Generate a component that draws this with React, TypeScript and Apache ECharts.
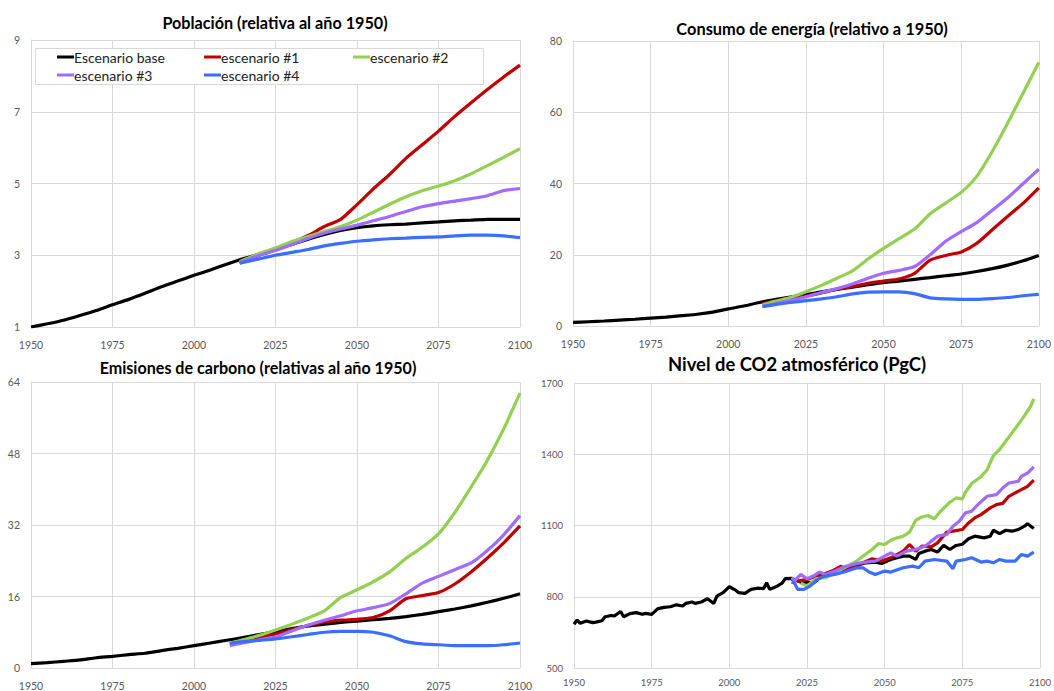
import React, { useEffect, useRef } from "react";
import * as echarts from "echarts";

// ---------- names, colours, titles ----------
const SERIES_NAMES = ["Escenario base", "escenario #1", "escenario #2", "escenario #3", "escenario #4"];
const SERIES_COLORS = ["#000000", "#C00000", "#92D050", "#A06CFF", "#3B6EFF"];
const PANEL_TITLES = [
  "Población (relativa al año 1950)",
  "Consumo de energía (relativo a 1950)",
  "Emisiones de carbono (relativas al año 1950)",
  "Nivel de CO2 atmosférico (PgC)",
];
const X_MIN = 1950;
const X_MAX = 2100;
const X_STEP = 25;
const Y_RANGES = [
  [1, 9, 2],
  [0, 80, 20],
  [0, 64, 16],
  [500, 1700, 300],
];

// ---------- years ----------
const BASE_YEARS = [1950, 1955, 1960, 1965, 1970, 1975, 1980, 1985, 1990, 1995, 2000, 2005, 2010, 2015, 2020, 2025, 2030, 2035, 2040, 2045, 2050, 2055, 2060, 2065, 2070, 2075, 2080, 2085, 2090, 2095, 2100];
const POP_SCEN_YEARS = [2014, 2020, 2025, 2030, 2035, 2040, 2045, 2050, 2055, 2060, 2065, 2070, 2075, 2080, 2085, 2090, 2095, 2100];
const SCEN_YEARS = [2011, 2015, 2020, 2025, 2030, 2035, 2040, 2045, 2050, 2055, 2060, 2065, 2070, 2075, 2080, 2085, 2090, 2095, 2100];

// ---------- panel 1: population ----------
const popBase = [1.0, 1.09, 1.19, 1.32, 1.46, 1.62, 1.77, 1.94, 2.12, 2.28, 2.44, 2.59, 2.75, 2.9, 3.03, 3.16, 3.3, 3.45, 3.58, 3.69, 3.77, 3.82, 3.85, 3.87, 3.9, 3.93, 3.96, 3.98, 4.0, 4.0, 4.0];
const popS1 = [2.78, 3.0, 3.15, 3.35, 3.55, 3.8, 4.0, 4.41, 4.85, 5.25, 5.7, 6.08, 6.46, 6.87, 7.25, 7.62, 7.97, 8.3];
const popS2 = [2.82, 3.05, 3.2, 3.38, 3.52, 3.66, 3.8, 3.98, 4.2, 4.42, 4.63, 4.8, 4.93, 5.08, 5.27, 5.5, 5.73, 5.97];
const popS3 = [2.8, 3.0, 3.13, 3.3, 3.47, 3.62, 3.73, 3.84, 3.96, 4.08, 4.22, 4.35, 4.44, 4.51, 4.58, 4.66, 4.8, 4.86];
const popS4 = [2.78, 2.9, 3.0, 3.08, 3.16, 3.26, 3.33, 3.39, 3.43, 3.46, 3.48, 3.5, 3.51, 3.54, 3.56, 3.56, 3.54, 3.49];

// ---------- panel 2: energy ----------
const enBase = [1.0, 1.2, 1.4, 1.65, 1.9, 2.2, 2.5, 2.9, 3.3, 3.9, 4.8, 5.6, 6.6, 7.4, 8.1, 8.8, 9.6, 10.3, 10.9, 11.6, 12.2, 12.6, 13.1, 13.6, 14.1, 14.6, 15.3, 16.1, 17.1, 18.3, 19.8];
const enS1 = [6.2, 7.0, 7.8, 8.4, 9.3, 10.3, 11.1, 12.0, 12.6, 13.2, 14.8, 18.5, 19.8, 20.8, 23.2, 27.0, 30.8, 34.5, 38.8];
const enS2 = [5.9, 6.9, 8.0, 9.6, 11.4, 13.4, 15.5, 18.8, 21.8, 24.5, 27.2, 31.5, 34.5, 37.5, 42.0, 49.0, 57.0, 65.5, 74.0];
const enS3 = [5.5, 6.2, 7.2, 8.2, 9.4, 10.5, 11.8, 13.4, 14.8, 15.6, 16.7, 20.0, 23.8, 26.5, 29.0, 32.5, 36.0, 40.0, 44.0];
const enS4 = [5.4, 6.0, 6.6, 7.1, 7.6, 8.2, 9.0, 9.5, 9.6, 9.6, 9.1, 7.9, 7.6, 7.5, 7.5, 7.7, 8.0, 8.5, 8.9];

// ---------- panel 3: carbon emissions ----------
const emBase = [1.0, 1.2, 1.5, 1.8, 2.3, 2.6, 3.0, 3.3, 3.9, 4.4, 5.0, 5.6, 6.2, 6.8, 7.5, 8.1, 8.8, 9.4, 9.8, 10.2, 10.5, 10.8, 11.1, 11.5, 12.0, 12.6, 13.2, 13.9, 14.7, 15.6, 16.6];
const emS1 = [5.4, 6.0, 6.8, 7.6, 8.6, 9.5, 10.3, 10.7, 10.9, 11.3, 12.8, 15.5, 16.2, 16.9, 18.8, 21.5, 24.6, 28.0, 31.8];
const emS2 = [5.5, 6.3, 7.3, 8.5, 9.8, 11.2, 12.8, 15.8, 17.5, 19.3, 21.5, 24.5, 27.0, 30.0, 34.8, 40.5, 46.5, 53.5, 61.5];
const emS3 = [5.0, 5.6, 6.3, 7.0, 8.3, 9.6, 10.7, 11.7, 12.8, 13.5, 14.4, 16.6, 19.0, 20.5, 22.0, 23.5, 26.3, 29.8, 34.1];
const emS4 = [5.5, 5.9, 6.2, 6.5, 7.0, 7.5, 8.0, 8.2, 8.2, 8.0, 7.2, 5.9, 5.4, 5.2, 5.0, 5.0, 5.0, 5.2, 5.6];

// ---------- panel 4: atmospheric CO2 ----------
const co2BaseYears = [1950, 1951, 1952, 1954, 1956, 1957, 1959, 1960, 1962, 1963, 1965, 1966, 1968, 1970, 1972, 1973, 1975, 1977, 1979, 1981, 1983, 1985, 1986, 1988, 1989, 1991, 1993, 1995, 1996, 1998, 2000, 2002, 2003, 2005, 2007, 2009, 2011, 2012, 2013, 2015, 2017, 2018, 2020, 2022, 2024, 2025, 2027, 2028, 2030, 2032, 2035, 2039, 2042, 2044, 2047, 2049, 2052, 2054, 2056, 2058, 2060, 2061, 2063, 2065, 2067, 2069, 2071, 2073, 2075, 2077, 2079, 2082, 2084, 2085, 2087, 2089, 2091, 2093, 2095, 2096, 2098];
const co2Base = [684, 702, 688, 698, 691, 693, 699, 716, 721, 719, 738, 716, 729, 733, 726, 730, 726, 750, 755, 758, 766, 761, 772, 778, 772, 778, 792, 772, 803, 817, 842, 828, 817, 814, 831, 836, 834, 859, 831, 842, 857, 876, 877, 867, 857, 862, 857, 867, 894, 901, 912, 918, 936, 943, 946, 940, 957, 964, 971, 971, 957, 982, 992, 999, 988, 1016, 999, 1016, 1021, 1044, 1055, 1048, 1055, 1080, 1066, 1080, 1076, 1083, 1097, 1107, 1087];
const co2S1Years = [2020, 2022, 2025, 2028, 2031, 2033, 2036, 2037, 2041, 2043, 2046, 2049, 2052, 2056, 2058, 2060, 2062, 2065, 2067, 2070, 2072, 2075, 2077, 2079, 2081, 2084, 2086, 2088, 2090, 2092, 2094, 2096, 2098];
const co2S1 = [873, 866, 873, 887, 898, 908, 929, 915, 929, 943, 960, 950, 964, 992, 1020, 992, 1013, 1010, 1027, 1072, 1076, 1083, 1111, 1132, 1146, 1174, 1188, 1193, 1223, 1237, 1251, 1265, 1291];
const co2S2Years = [2023, 2025, 2028, 2031, 2034, 2038, 2041, 2043, 2046, 2048, 2050, 2052, 2054, 2056, 2058, 2060, 2062, 2064, 2066, 2068, 2071, 2073, 2075, 2076, 2078, 2081, 2083, 2085, 2087, 2089, 2091, 2093, 2095, 2097, 2098];
const co2S2 = [857, 845, 876, 880, 901, 929, 950, 971, 999, 1024, 1020, 1038, 1048, 1055, 1072, 1122, 1136, 1142, 1128, 1160, 1198, 1216, 1212, 1240, 1277, 1305, 1335, 1394, 1420, 1455, 1490, 1525, 1563, 1602, 1633];
const co2S3Years = [2020, 2021, 2023, 2025, 2027, 2029, 2031, 2034, 2037, 2041, 2044, 2047, 2050, 2052, 2054, 2057, 2060, 2063, 2065, 2067, 2070, 2072, 2074, 2076, 2078, 2080, 2083, 2086, 2088, 2090, 2093, 2094, 2096, 2098];
const co2S3 = [880, 867, 894, 876, 887, 904, 894, 908, 926, 940, 946, 950, 971, 985, 971, 992, 999, 1013, 1034, 1055, 1062, 1097, 1118, 1153, 1160, 1188, 1223, 1230, 1258, 1279, 1286, 1307, 1321, 1347];
const co2S4Years = [2020, 2021, 2022, 2024, 2026, 2028, 2030, 2032, 2034, 2037, 2041, 2043, 2045, 2047, 2050, 2052, 2056, 2059, 2061, 2063, 2066, 2070, 2072, 2073, 2076, 2078, 2081, 2083, 2085, 2087, 2089, 2092, 2094, 2096, 2098];
const co2S4 = [862, 857, 831, 831, 845, 870, 884, 890, 894, 904, 922, 922, 904, 894, 908, 904, 922, 929, 922, 950, 957, 950, 918, 950, 957, 964, 946, 950, 943, 957, 950, 950, 978, 971, 988];

const PANEL_DATA: [number[], number[]][][] = [
  [[BASE_YEARS, popBase], [POP_SCEN_YEARS, popS1], [POP_SCEN_YEARS, popS2], [POP_SCEN_YEARS, popS3], [POP_SCEN_YEARS, popS4]],
  [[BASE_YEARS, enBase], [SCEN_YEARS, enS1], [SCEN_YEARS, enS2], [SCEN_YEARS, enS3], [SCEN_YEARS, enS4]],
  [[BASE_YEARS, emBase], [SCEN_YEARS, emS1], [SCEN_YEARS, emS2], [SCEN_YEARS, emS3], [SCEN_YEARS, emS4]],
  [[co2BaseYears, co2Base], [co2S1Years, co2S1], [co2S2Years, co2S2], [co2S3Years, co2S3], [co2S4Years, co2S4]],
];

// ---------- layout ----------
const GRIDS = [
  { left: 31, top: 40, width: 489, height: 287 },
  { left: 573, top: 41, width: 468, height: 285 },
  { left: 31, top: 382, width: 489, height: 286 },
  { left: 574, top: 383, width: 467, height: 285 },
];
const TITLE_POS = [
  [275, 22, 16.2],
  [812, 28, 16.4],
  [258, 367, 16.1],
  [797, 364, 18.4],
];
const FONT = "Lato, 'Open Sans', sans-serif";
const GRID_COLOR = "#D9D9D9";
const LABEL_COLOR = "#595959";

export default function App() {
  const ref = useRef<HTMLDivElement>(null);
  useEffect(() => {
    if (!ref.current) return;
    const chart = echarts.init(ref.current, null, { renderer: "svg" });

    const pair = (xs: number[], ys: number[]) => xs.map((x, i) => [x, ys[i]]);

    const series: any[] = [];
    PANEL_DATA.forEach((panel, p) => {
      panel.forEach(([xs, ys], s) => {
        series.push({
          type: "line",
          name: SERIES_NAMES[s],
          xAxisIndex: p,
          yAxisIndex: p,
          data: pair(xs, ys),
          showSymbol: false,
          symbol: "none",
          smooth: p === 3 ? false : 0.2,
          lineStyle: { color: SERIES_COLORS[s], width: 3.2 },
          itemStyle: { color: SERIES_COLORS[s] },
          z: 2 + s,
        });
      });
    });

    const xAxis = GRIDS.map((_, i) => ({
      type: "value",
      gridIndex: i,
      min: X_MIN,
      max: X_MAX,
      interval: X_STEP,
      axisLine: { show: true, lineStyle: { color: GRID_COLOR, width: 1 } },
      axisTick: { show: false },
      splitLine: { show: true, lineStyle: { color: GRID_COLOR, width: 1 } },
      axisLabel: {
        color: LABEL_COLOR,
        fontFamily: FONT,
        fontSize: i === 3 ? 9.5 : 10.5,
        margin: i === 3 ? 9 : 12,
        formatter: (v: number) => String(v),
      },
    }));

    const yAxis = GRIDS.map((_, i) => ({
      type: "value",
      gridIndex: i,
      min: Y_RANGES[i][0],
      max: Y_RANGES[i][1],
      interval: Y_RANGES[i][2],
      axisLine: { show: true, lineStyle: { color: GRID_COLOR, width: 1 } },
      axisTick: { show: false },
      splitLine: { show: true, lineStyle: { color: GRID_COLOR, width: 1 } },
      axisLabel: {
        color: LABEL_COLOR,
        fontFamily: FONT,
        fontSize: i === 3 ? 9.5 : 10.5,
        margin: 11,
        formatter: (v: number) => String(v),
      },
    }));

    const graphics: any[] = PANEL_TITLES.map((t, i) => ({
      type: "text",
      x: TITLE_POS[i][0],
      y: TITLE_POS[i][1],
      z: 10,
      style: {
        text: t,
        fontFamily: FONT,
        fontWeight: "bold",
        fontSize: TITLE_POS[i][2],
        fill: "#000000",
        textAlign: "center",
        textVerticalAlign: "middle",
      },
    }));

    // legend box
    graphics.push({
      type: "rect",
      shape: { x: 35.5, y: 48.5, width: 448, height: 36 },
      style: { fill: "#ffffff", stroke: GRID_COLOR, lineWidth: 1 },
      z: 20,
    });
    const legendPos = [
      [57, 57],
      [204, 57],
      [353, 57],
      [57, 75],
      [204, 75],
    ];
    SERIES_NAMES.forEach((name, i) => {
      const [lx, ly] = legendPos[i];
      graphics.push({
        type: "line",
        shape: { x1: lx, y1: ly, x2: lx + 17, y2: ly },
        style: { stroke: SERIES_COLORS[i], lineWidth: 3 },
        z: 21,
      });
      graphics.push({
        type: "text",
        x: lx + 17,
        y: ly,
        z: 21,
        style: {
          text: name,
          fontFamily: FONT,
          fontSize: 14,
          fill: "#222222",
          textAlign: "left",
          textVerticalAlign: "middle",
        },
      });
    });

    chart.setOption({
      animation: false,
      backgroundColor: "#ffffff",
      grid: GRIDS.map((g) => ({ ...g, containLabel: false })),
      xAxis,
      yAxis,
      series,
      graphic: graphics,
    });

    return () => chart.dispose();
  }, []);

  return (
    <div
      ref={ref}
      style={{ position: "absolute", left: 0, top: 0, width: 1054, height: 691 }}
    />
  );
}
